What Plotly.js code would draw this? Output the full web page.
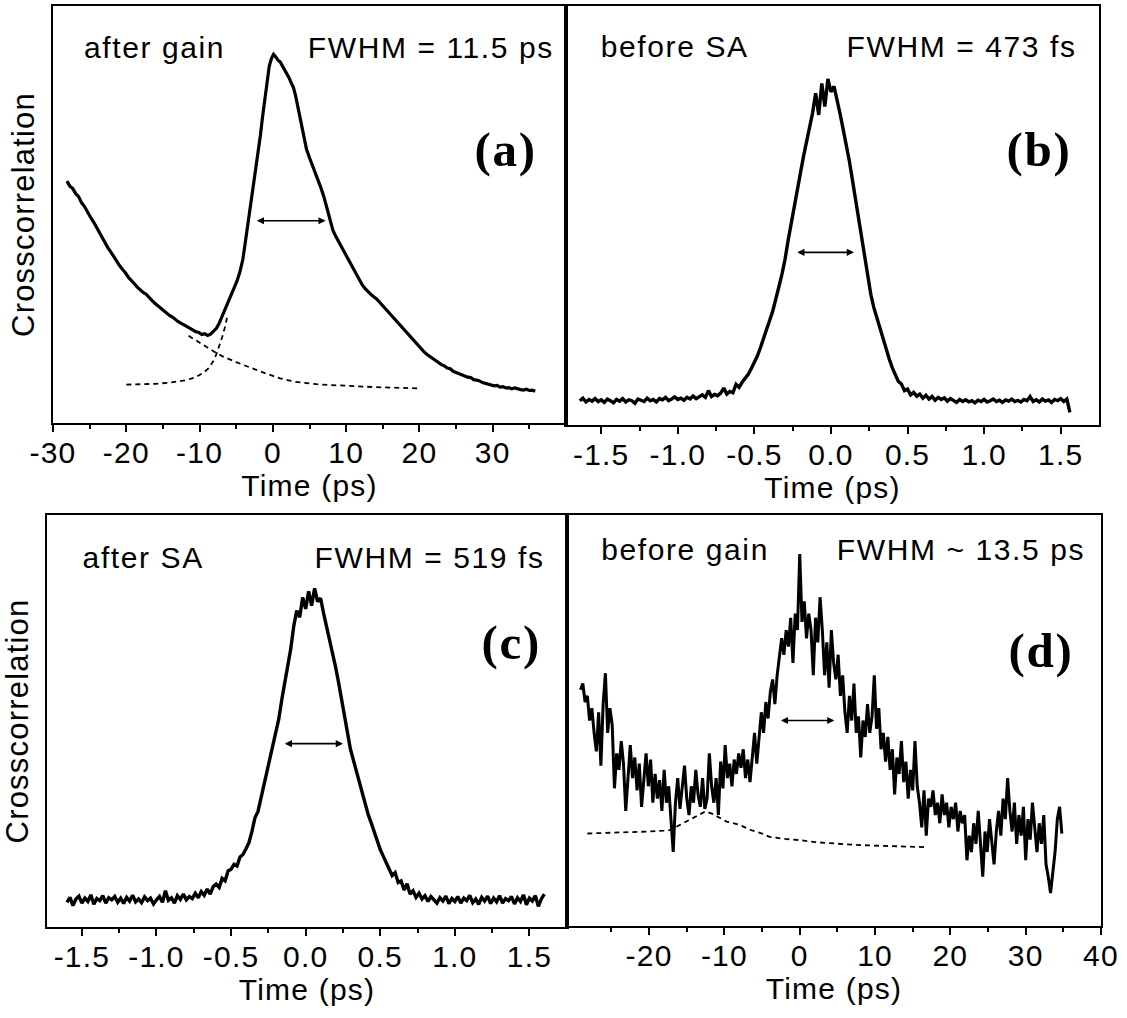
<!DOCTYPE html>
<html>
<head>
<meta charset="utf-8">
<script src="https://cdn.plot.ly/plotly-3.0.1.min.js"></script>
<style>
  html, body { margin: 0; padding: 0; background: #fff; }
  #chart { width: 1127px; height: 1018px; }
  #chart svg text { letter-spacing: 1.2px; }
  #chart svg text.annotation-text { letter-spacing: 1.6px; }
</style>
</head>
<body>
<div id="chart"></div>
<script>
// ---------------- DATA (y in normalised units, 0 = axis floor, 1 = frame top) -------------

// Panel (a) "after gain": time (ps) and crosscorrelation
const aTime = [-28.1,-27.7,-27.3,-26.9,-26.5,-26.1,-25.7,-25.3,-24.9,-24.5,-24.1,-23.7,-23.3,-22.9,-22.5,-22.1,-21.7,-21.3,-20.9,-20.5,
  -20.1,-19.7,-19.3,-18.9,-18.5,-18.1,-17.7,-17.3,-16.9,-16.5,-16.1,-15.7,-15.3,-14.9,-14.5,-14.1,-13.7,-13.3,-12.9,-12.5,
  -12.1,-11.7,-11.3,-10.9,-10.5,-10.1,-9.7,-9.3,-8.9,-8.5,-8.1,-7.7,-7.3,-6.9,-6.5,-6.1,-5.7,-5.3,-4.9,-4.5,
  -4.1,-3.8,-3.5,-3.2,-2.9,-2.6,-2.3,-2.0,-1.7,-1.4,-1.1,-0.8,-0.5,-0.2,0.1,0.4,0.7,1.0,1.3,1.6,
  1.9,2.2,2.5,2.8,3.1,3.4,3.7,4.0,4.3,4.6,5.0,5.4,5.8,6.2,6.6,7.0,7.4,7.8,8.2,8.6,
  9.0,9.4,9.8,10.2,10.6,11.0,11.4,11.8,12.2,12.6,13.0,13.4,13.8,14.2,14.6,15.0,15.4,15.8,16.2,16.6,
  17.0,17.4,17.8,18.2,18.6,19.0,19.4,19.8,20.2,20.6,21.0,21.4,21.8,22.2,22.6,23.0,23.4,23.8,24.2,24.6,
  25.0,25.4,25.8,26.2,26.6,27.0,27.4,27.8,28.2,28.6,29.0,29.4,29.8,30.2,30.6,31.0,31.4,31.8,32.2,32.6,
  33.0,33.4,33.8,34.2,34.6,35.0,35.4,35.8];
const aSignal = [0.580,0.568,0.562,0.550,0.543,0.528,0.519,0.505,0.494,0.483,0.470,0.459,0.446,0.434,0.420,0.410,0.398,0.389,0.377,0.368,
  0.360,0.349,0.340,0.334,0.326,0.319,0.313,0.309,0.300,0.294,0.287,0.281,0.276,0.268,0.264,0.258,0.254,0.248,0.243,0.239,
  0.234,0.231,0.227,0.222,0.219,0.217,0.212,0.214,0.210,0.213,0.219,0.227,0.240,0.256,0.272,0.290,0.306,0.322,0.340,0.362,
  0.392,0.428,0.466,0.502,0.532,0.566,0.606,0.645,0.690,0.735,0.780,0.822,0.855,0.874,0.884,0.878,0.870,0.866,0.857,0.847,
  0.838,0.828,0.816,0.805,0.785,0.758,0.732,0.702,0.676,0.656,0.636,0.618,0.600,0.581,0.562,0.540,0.516,0.490,0.462,0.447,
  0.434,0.422,0.408,0.396,0.383,0.370,0.356,0.343,0.331,0.322,0.314,0.308,0.302,0.297,0.289,0.281,0.274,0.265,0.257,0.250,
  0.241,0.233,0.226,0.217,0.209,0.202,0.193,0.185,0.177,0.171,0.165,0.160,0.153,0.149,0.145,0.140,0.137,0.132,0.130,0.124,
  0.121,0.118,0.116,0.112,0.110,0.109,0.104,0.103,0.101,0.097,0.095,0.094,0.091,0.089,0.090,0.086,0.087,0.084,0.085,0.082,
  0.084,0.081,0.080,0.079,0.081,0.078,0.079,0.076];
// Panel (a) dashed fit components
const aFitRiseTime = [-20,-18,-16,-14,-12,-10.5,-9.5,-8.8,-8.2,-7.7,-7.3,-6.9,-6.5,-6.2];
const aFitRise     = [0.092,0.093,0.094,0.097,0.102,0.110,0.120,0.131,0.146,0.165,0.185,0.207,0.232,0.258];
const aFitDecayTime = [-11.5,-10,-9,-8,-7,-6,-5,-4,-3,-2,-1,0,1,2,3,4,5,6,8,10,12,14,16,18,20];
const aFitDecay     = [0.209,0.192,0.181,0.171,0.161,0.153,0.146,0.139,0.132,0.125,0.119,0.113,0.107,0.103,0.099,0.097,0.095,0.093,0.091,0.089,0.088,0.086,0.085,0.084,0.083];

// Panel (b) "before SA": samples every 0.02 ps starting at -1.64 ps
const bStart = -1.64, bStep = 0.02;
const bSignal = [
  0.058,0.064,0.055,0.061,0.057,0.063,0.056,0.060,0.054,0.062,
  0.058,0.053,0.061,0.057,0.063,0.055,0.060,0.058,0.052,0.062,
  0.059,0.056,0.064,0.058,0.061,0.055,0.063,0.060,0.066,0.058,
  0.062,0.067,0.061,0.064,0.059,0.066,0.062,0.069,0.063,0.067,
  0.072,0.066,0.082,0.068,0.073,0.070,0.076,0.088,0.074,0.080,
  0.077,0.097,0.090,0.102,0.110,0.121,0.135,0.148,0.165,0.185,
  0.205,0.228,0.250,0.272,0.298,0.330,0.360,0.395,0.440,0.478,
  0.515,0.555,0.600,0.640,0.675,0.712,0.745,0.792,0.740,0.815,
  0.760,0.826,0.795,0.808,0.770,0.742,0.705,0.672,0.630,0.585,
  0.540,0.492,0.440,0.394,0.350,0.312,0.280,0.255,0.228,0.205,
  0.180,0.158,0.137,0.120,0.104,0.098,0.082,0.086,0.072,0.078,
  0.069,0.074,0.064,0.071,0.062,0.068,0.059,0.066,0.061,0.065,
  0.057,0.063,0.058,0.054,0.061,0.056,0.060,0.055,0.058,0.053,
  0.059,0.056,0.061,0.055,0.058,0.062,0.056,0.059,0.054,0.060,
  0.057,0.062,0.056,0.059,0.055,0.061,0.058,0.068,0.056,0.060,
  0.055,0.062,0.057,0.060,0.054,0.061,0.058,0.063,0.056,0.062,
  0.030];

// Panel (c) "after SA": samples every 0.02 ps starting at -1.60 ps
const cStart = -1.60, cStep = 0.02;
const cSignal = [
  0.060,0.072,0.052,0.068,0.075,0.058,0.070,0.062,0.078,0.055,
  0.069,0.064,0.076,0.058,0.071,0.066,0.074,0.060,0.070,0.057,
  0.072,0.063,0.077,0.061,0.068,0.059,0.073,0.064,0.070,0.056,
  0.066,0.074,0.060,0.088,0.065,0.071,0.058,0.076,0.067,0.080,
  0.066,0.074,0.069,0.082,0.071,0.086,0.077,0.092,0.080,0.098,
  0.104,0.096,0.118,0.112,0.136,0.140,0.152,0.148,0.170,0.176,
  0.190,0.205,0.232,0.265,0.280,0.312,0.338,0.372,0.402,0.432,
  0.468,0.505,0.552,0.590,0.632,0.675,0.730,0.768,0.752,0.800,
  0.772,0.815,0.780,0.822,0.790,0.798,0.762,0.730,0.702,0.668,
  0.632,0.595,0.555,0.505,0.465,0.432,0.405,0.378,0.352,0.322,
  0.298,0.272,0.252,0.230,0.208,0.188,0.172,0.155,0.142,0.125,
  0.132,0.108,0.112,0.090,0.105,0.080,0.088,0.072,0.082,0.068,
  0.076,0.062,0.074,0.065,0.058,0.071,0.063,0.075,0.057,0.069,
  0.062,0.074,0.058,0.070,0.064,0.077,0.059,0.068,0.055,0.072,
  0.063,0.075,0.057,0.070,0.061,0.076,0.058,0.069,0.064,0.074,
  0.056,0.071,0.062,0.078,0.054,0.070,0.063,0.076,0.050,0.068,
  0.080];

// Panel (d) "before gain": samples every 0.3 ps starting at -29.1 ps
const dStart = -29.1, dStep = 0.3;
const dSignal = [
  0.575,0.590,0.545,0.560,0.500,0.530,0.470,0.425,0.520,0.390,
  0.540,0.615,0.470,0.530,0.490,0.335,0.420,0.380,0.450,0.395,
  0.280,0.370,0.440,0.360,0.410,0.330,0.395,0.290,0.350,0.420,
  0.340,0.405,0.300,0.370,0.310,0.355,0.280,0.380,0.300,0.340,
  0.260,0.180,0.300,0.360,0.285,0.330,0.390,0.310,0.270,0.340,
  0.300,0.380,0.320,0.290,0.360,0.285,0.310,0.420,0.340,0.300,
  0.360,0.270,0.400,0.335,0.440,0.360,0.395,0.340,0.405,0.370,
  0.420,0.385,0.430,0.360,0.405,0.350,0.420,0.470,0.395,0.455,
  0.520,0.470,0.545,0.505,0.570,0.600,0.540,0.610,0.650,0.700,
  0.660,0.720,0.680,0.750,0.640,0.760,0.720,0.905,0.740,0.790,
  0.700,0.760,0.720,0.610,0.750,0.690,0.800,0.720,0.610,0.690,
  0.580,0.720,0.640,0.600,0.660,0.560,0.610,0.520,0.470,0.560,
  0.500,0.590,0.470,0.510,0.410,0.500,0.460,0.540,0.470,0.510,
  0.610,0.480,0.530,0.430,0.470,0.400,0.460,0.380,0.430,0.320,
  0.410,0.370,0.450,0.350,0.400,0.310,0.380,0.330,0.450,0.340,
  0.300,0.240,0.330,0.220,0.310,0.290,0.330,0.270,0.300,0.250,
  0.320,0.270,0.300,0.240,0.290,0.260,0.300,0.230,0.280,0.250,
  0.270,0.160,0.220,0.180,0.250,0.200,0.280,0.210,0.120,0.230,
  0.180,0.260,0.200,0.150,0.230,0.280,0.220,0.310,0.260,0.360,
  0.280,0.230,0.300,0.200,0.270,0.220,0.290,0.160,0.260,0.210,
  0.300,0.230,0.180,0.250,0.200,0.270,0.150,0.120,0.080,0.130,
  0.180,0.260,0.290,0.225];
// Panel (d) dashed fit
const dFitTime = [-28.2,-26,-24,-22,-20,-18,-17.3,-16,-15,-14,-13.2,-12.5,-11.5,-10.5,-9.7,-8,-6.4,-5,-4,-2,0,2.1,4,6,9.2,12,14,16.6];
const dFit     = [0.225,0.226,0.227,0.228,0.230,0.232,0.233,0.245,0.255,0.265,0.273,0.279,0.272,0.262,0.254,0.246,0.233,0.225,0.217,0.212,0.209,0.204,0.201,0.199,0.196,0.194,0.193,0.192];

// FWHM arrows: [left time, right time, level]
const aArrow = [-2.4, 7.2, 0.485];
const bArrow = [-0.23, 0.15, 0.412];
const cArrow = [-0.15, 0.25, 0.445];
const dArrow = [-2.7, 4.6, 0.50];

// Tick labels
const psTicks = [-30,-20,-10,0,10,20,30];
const psTickText = ['-30','-20','-10','0','10','20','30'];
const psMinor = [-25,-15,-5,5,15,25,35];
const dTicks = [-20,-10,0,10,20,30,40];
const dTickText = ['-20','-10','0','10','20','30','40'];
const fsTicks = [-1.5,-1.0,-0.5,0.0,0.5,1.0,1.5];
const fsTickText = ['-1.5','-1.0','-0.5','0.0','0.5','1.0','1.5'];
const fsMinor = [-1.25,-0.75,-0.25,0.25,0.75,1.25];

// Panel texts
const labels = {
  a: ['after gain', 'FWHM = 11.5 ps', '(a)'],
  b: ['before SA', 'FWHM = 473 fs', '(b)'],
  c: ['after SA', 'FWHM = 519 fs', '(c)'],
  d: ['before gain', 'FWHM ~ 13.5 ps', '(d)']
};
const xTitle = 'Time (ps)';
const yTitle = 'Crosscorrelation';

// ---------------- LAYOUT -------------
const W = 1127, H = 1018;
const SANS = 'Liberation Sans, Arial, Helvetica, sans-serif';
const SERIF = 'Liberation Serif, Times New Roman, serif';
const px = v => v / W;
const py = v => 1 - v / H;
// frames in pixels: [left, right, top, bottom]
const frame = { a:[53,566,6,423], b:[566,1099,6,425], c:[47,567,515,927], d:[567,1101,515,926] };

function grid(start, step, n) { const t = []; for (let i = 0; i < n; i++) t.push(+(start + i*step).toFixed(3)); return t; }

const solid = (x, y, xa, ya, w) => ({ x, y, xaxis: xa, yaxis: ya, type: 'scatter', mode: 'lines',
  line: { color: '#000', width: w }, hoverinfo: 'skip', showlegend: false });
const dashed = (x, y, xa, ya) => ({ x, y, xaxis: xa, yaxis: ya, type: 'scatter', mode: 'lines',
  line: { color: '#000', width: 1.8, dash: '5px,4px' }, hoverinfo: 'skip', showlegend: false });

const traces = [
  solid(aTime, aSignal, 'x', 'y', 3.2),
  dashed(aFitRiseTime, aFitRise, 'x', 'y'),
  dashed(aFitDecayTime, aFitDecay, 'x', 'y'),
  solid(grid(bStart, bStep, bSignal.length), bSignal, 'x2', 'y2', 3.4),
  solid(grid(cStart, cStep, cSignal.length), cSignal, 'x3', 'y3', 3.4),
  solid(grid(dStart, dStep, dSignal.length), dSignal, 'x4', 'y4', 3),
  dashed(dFitTime, dFit, 'x4', 'y4')
];

const tickFont = { family: SANS, size: 30, color: '#000' };
function xAxis(f, range, tickvals, ticktext, minorvals, yId) {
  return {
    domain: [px(f[0]), px(f[1])], range, anchor: yId,
    showline: true, linecolor: '#000', linewidth: 2, mirror: true,
    showgrid: false, zeroline: false,
    tickmode: 'array', tickvals, ticktext,
    ticks: 'outside', ticklen: 7, tickwidth: 2, tickcolor: '#000',
    ticklabelstandoff: -5,
    minor: { tickmode: 'array', tickvals: minorvals, ticks: 'outside', ticklen: 4, tickwidth: 2, tickcolor: '#000', showgrid: false },
    tickfont: tickFont,
    title: { text: xTitle, font: { family: SANS, size: 30, color: '#000' }, standoff: 0 },
    fixedrange: true
  };
}
function yAxis(f, xId, withTitle) {
  const ax = {
    domain: [py(f[3]), py(f[2])], range: [0, 1], anchor: xId,
    showline: true, linecolor: '#000', linewidth: 2, mirror: true,
    showgrid: false, zeroline: false, ticks: '', showticklabels: false, fixedrange: true
  };
  if (withTitle) ax.title = { text: yTitle, font: { family: SANS, size: 31, color: '#000' }, standoff: 7 };
  return ax;
}

// centres (in pixels) of the two header texts, their row, and the panel letter position
function panelText(key, leftC, rightC, yText, lblX, lblY) {
  const t = labels[key];
  const f = { family: SANS, size: 30, color: '#000' };
  return [
    { text: t[0], x: px(leftC), y: py(yText), xref: 'paper', yref: 'paper', xanchor: 'center', yanchor: 'middle', showarrow: false, font: f },
    { text: t[1], x: px(rightC), y: py(yText), xref: 'paper', yref: 'paper', xanchor: 'center', yanchor: 'middle', showarrow: false, font: f },
    { text: '<b>' + t[2] + '</b>', x: px(lblX), y: py(lblY), xref: 'paper', yref: 'paper', xanchor: 'center', yanchor: 'middle', showarrow: false,
      font: { family: SERIF, size: 49, color: '#000' } }
  ];
}
function fwhmArrow(arr, xa, ya) {
  return { x: arr[1], y: arr[2], ax: arr[0], ay: arr[2], xref: xa, yref: ya, axref: xa, ayref: ya,
    text: '', showarrow: true, arrowhead: 2, startarrowhead: 2, arrowside: 'end+start',
    arrowsize: 0.9, startarrowsize: 0.9, arrowwidth: 1.6, arrowcolor: '#000', standoff: 0, startstandoff: 0 };
}

const annotations = [
  ...panelText('a', 154, 431, 48, 505, 150),
  ...panelText('b', 674, 961, 46, 1039, 149),
  ...panelText('c', 143, 430, 557, 511, 642),
  ...panelText('d', 685, 961, 549, 1041, 650),
  fwhmArrow(aArrow, 'x', 'y'),
  fwhmArrow(bArrow, 'x2', 'y2'),
  fwhmArrow(cArrow, 'x3', 'y3'),
  fwhmArrow(dArrow, 'x4', 'y4')
];

const layout = {
  width: W, height: H,
  margin: { l: 0, r: 0, t: 0, b: 0 },
  paper_bgcolor: '#fff', plot_bgcolor: '#fff',
  showlegend: false,
  font: { family: SANS, color: '#000' },
  xaxis:  xAxis(frame.a, [-30, 40], psTicks, psTickText, psMinor, 'y'),
  yaxis:  yAxis(frame.a, 'x', true),
  xaxis2: xAxis(frame.b, [-1.73, 1.75], fsTicks, fsTickText, fsMinor, 'y2'),
  yaxis2: yAxis(frame.b, 'x2', false),
  xaxis3: xAxis(frame.c, [-1.734, 1.752], fsTicks, fsTickText, fsMinor, 'y3'),
  yaxis3: yAxis(frame.c, 'x3', true),
  xaxis4: xAxis(frame.d, [-30.9, 40], dTicks, dTickText, psMinor, 'y4'),
  yaxis4: yAxis(frame.d, 'x4', false),
  annotations
};

Plotly.newPlot('chart', traces, layout, { displayModeBar: false, staticPlot: true });
</script>
</body>
</html>
